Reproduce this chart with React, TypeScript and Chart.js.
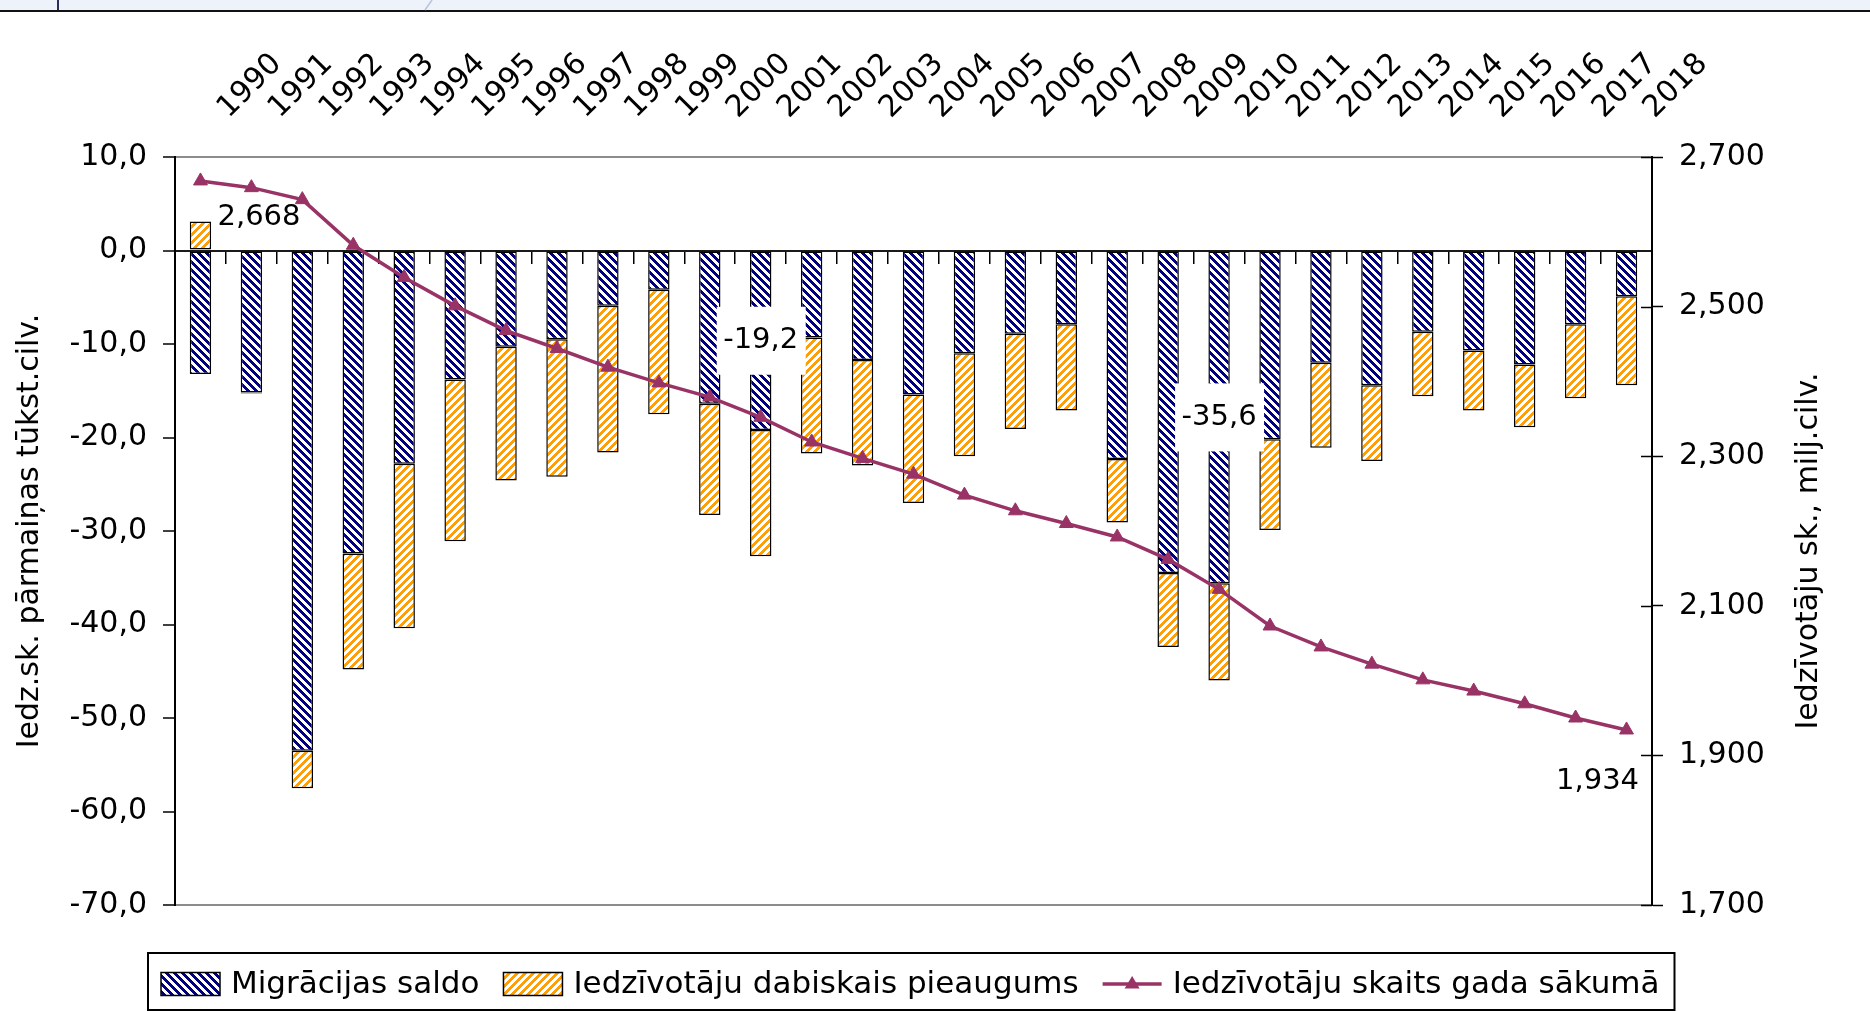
import React, { useEffect, useRef } from 'react';
import { Chart, registerables } from 'chart.js';

Chart.register(...registerables);

const years = ['1990', '1991', '1992', '1993', '1994', '1995', '1996', '1997', '1998', '1999', '2000', '2001', '2002', '2003', '2004', '2005', '2006', '2007', '2008', '2009', '2010', '2011', '2012', '2013', '2014', '2015', '2016', '2017', '2018'];

const migration = [-13.2, -15.2, -53.5, -32.4, -22.8, -13.8, -10.3, -9.5, -5.9, -4.2, -16.4, -19.2, -9.3, -11.7, -15.4, -11.0, -8.9, -7.9, -22.3, -34.5, -35.6, -20.2, -12.0, -14.4, -8.7, -10.7, -12.2, -7.9, -4.9];

const naturalIncrease = [3.1, -0.1, -4.0, -12.4, -17.6, -17.3, -14.3, -14.7, -15.7, -13.3, -11.9, -13.5, -12.4, -11.3, -11.6, -11.0, -10.2, -9.2, -6.8, -7.9, -10.4, -9.7, -9.1, -8.1, -6.9, -6.4, -6.7, -7.9, -9.5];

const population = [2.668, 2.659, 2.643, 2.582, 2.539, 2.501, 2.468, 2.444, 2.419, 2.398, 2.379, 2.352, 2.319, 2.297, 2.276, 2.248, 2.227, 2.210, 2.192, 2.162, 2.122, 2.073, 2.045, 2.022, 2.001, 1.986, 1.969, 1.950, 1.934];

const seriesNames = ['Migrācijas saldo', 'Iedzīvotāju dabiskais pieaugums', 'Iedzīvotāju skaits gada sākumā'];
const leftTitle = 'Iedz.sk. pārmaiņas tūkst.cilv.';
const rightTitle = 'Iedzīvotāju sk., milj.cilv.';

const leftMin = -70;
const leftMax = 10;
const leftStep = 10;
const rightMin = 1.7;
const rightMax = 2.7;
const rightStep = 0.2;

const barLabelIdx = [11, 20];
const lineLabelIdx = [0, 28];

const FONT = "'DejaVu Sans', sans-serif";
const NAVY = '#000080';
const ORANGE = '#FFA000';
const PLUM = '#993366';
const TICK_SIZE = 30;

const fmt1 = (v: number) => Number(v).toFixed(1).replace('.', ',');
const fmt3 = (v: number) => Number(v).toFixed(3).replace('.', ',');

function makePattern(ctx: CanvasRenderingContext2D, color: string, dir: number) {
  const c = document.createElement('canvas');
  c.width = 8;
  c.height = 8;
  const g = c.getContext('2d')!;
  g.fillStyle = '#ffffff';
  g.fillRect(0, 0, 8, 8);
  g.fillStyle = color;
  for (let y = 0; y < 8; y++) {
    for (let x = 0; x < 8; x++) {
      const k = dir > 0 ? (x + y) % 8 : (x - y + 8) % 8;
      if (k < 4) g.fillRect(x, y, 1, 1);
    }
  }
  return ctx.createPattern(c, 'repeat')!;
}

export default function App() {
  const ref = useRef<HTMLCanvasElement | null>(null);

  useEffect(() => {
    document.body.style.margin = '0';
    const canvas = ref.current!;
    const ctx0 = canvas.getContext('2d')!;
    const blueP = makePattern(ctx0, NAVY, -1);
    const orangeP = makePattern(ctx0, ORANGE, 1);

    const decor = {
      id: 'decor',
      beforeDraw(chart: any) {
        const ctx = chart.ctx;
        ctx.save();
        ctx.fillStyle = '#ffffff';
        ctx.fillRect(0, 0, chart.width, chart.height);
        ctx.fillStyle = '#eef2fb';
        ctx.fillRect(0, 0, chart.width, 10);
        ctx.fillStyle = '#111111';
        ctx.fillRect(0, 10, chart.width, 2);
        ctx.fillStyle = '#2a2f55';
        ctx.fillRect(57, 0, 2, 10);
        ctx.strokeStyle = '#b8c4dc';
        ctx.lineWidth = 1.5;
        ctx.beginPath();
        ctx.moveTo(432, 0);
        ctx.lineTo(425, 10);
        ctx.stroke();
        ctx.restore();
      },
      afterDatasetsDraw(chart: any) {
        const ctx = chart.ctx;
        ctx.save();
        ctx.font = `29px ${FONT}`;
        ctx.fillStyle = '#000';
        const barMeta = chart.getDatasetMeta(0);
        barLabelIdx.forEach((i) => {
          const el = barMeta.data[i];
          const cx = el.x;
          const cy = (el.y + el.base) / 2;
          ctx.fillStyle = '#ffffff';
          ctx.fillRect(cx - 44, cy - 34, 89, 68);
          ctx.fillStyle = '#000';
          ctx.textAlign = 'center';
          ctx.textBaseline = 'middle';
          ctx.fillText(fmt1(migration[i]), cx, cy);
        });
        const lineMeta = chart.getDatasetMeta(2);
        lineLabelIdx.forEach((i, k) => {
          const el = lineMeta.data[i];
          ctx.textBaseline = 'middle';
          if (k === 0) {
            ctx.textAlign = 'left';
            ctx.fillText(fmt3(population[i]), el.x + 17, el.y + 37);
          } else {
            ctx.textAlign = 'center';
            ctx.fillText(fmt3(population[i]), el.x - 29, el.y + 52);
          }
        });
        ctx.restore();
      },
      afterDraw(chart: any) {
        const ctx = chart.ctx;
        const area = chart.chartArea;
        ctx.save();
        const y2 = chart.scales.y2;
        ctx.strokeStyle = '#000';
        ctx.lineWidth = 1.5;
        y2.ticks.forEach((t: any) => {
          const py = Math.round(y2.getPixelForValue(t.value)) + 0.5;
          ctx.beginPath();
          ctx.moveTo(area.right - 11, py);
          ctx.lineTo(area.right, py);
          ctx.stroke();
        });
        ctx.fillStyle = '#000';
        ctx.font = `30px ${FONT}`;
        ctx.textAlign = 'center';
        ctx.textBaseline = 'middle';
        ctx.save();
        ctx.translate(30, (area.top + area.bottom) / 2);
        ctx.rotate(-Math.PI / 2);
        ctx.fillText(leftTitle, 0, 0);
        ctx.restore();
        ctx.save();
        ctx.translate(1809, (area.top + area.bottom) / 2 + 20);
        ctx.rotate(-Math.PI / 2);
        ctx.fillText(rightTitle, 0, 0);
        ctx.restore();
        // legend
        const ly = 984;
        ctx.font = `31px ${FONT}`;
        ctx.textAlign = 'left';
        ctx.textBaseline = 'middle';
        let x = 161;
        const ds = chart.data.datasets;
        for (let i = 0; i < 2; i++) {
          ctx.fillStyle = ds[i].backgroundColor;
          ctx.fillRect(x, ly - 11.5, 59, 23);
          ctx.strokeStyle = '#000';
          ctx.lineWidth = 1.5;
          ctx.strokeRect(x, ly - 11.5, 59, 23);
          x += 59 + 11;
          ctx.fillStyle = '#000';
          ctx.fillText(ds[i].label, x, ly + 1);
          x += ctx.measureText(ds[i].label).width + 24;
        }
        ctx.strokeStyle = PLUM;
        ctx.lineWidth = 3.5;
        ctx.beginPath();
        ctx.moveTo(x, ly);
        ctx.lineTo(x + 59, ly);
        ctx.stroke();
        ctx.fillStyle = PLUM;
        ctx.beginPath();
        ctx.moveTo(x + 29.5, ly - 8);
        ctx.lineTo(x + 37, ly + 4.5);
        ctx.lineTo(x + 22, ly + 4.5);
        ctx.closePath();
        ctx.fill();
        x += 59 + 11;
        ctx.fillStyle = '#000';
        ctx.fillText(ds[2].label, x, ly + 1);
        x += ctx.measureText(ds[2].label).width;
        ctx.strokeStyle = '#000';
        ctx.lineWidth = 2;
        ctx.strokeRect(148, 953, Math.max(x + 15, 1669) - 148, 57);
        ctx.restore();
      },
    };

    const chart = new Chart(canvas, {
      type: 'bar',
      data: {
        labels: years,
        datasets: [
          {
            label: seriesNames[0],
            data: migration,
            backgroundColor: blueP,
            borderColor: '#000',
            borderWidth: 1.5,
            borderSkipped: false,
            stack: 's',
            order: 1,
            yAxisID: 'y',
            xAxisID: 'x',
            barPercentage: 0.42,
            categoryPercentage: 1,
          } as any,
          {
            label: seriesNames[1],
            data: naturalIncrease,
            backgroundColor: orangeP,
            borderColor: '#000',
            borderWidth: 1.5,
            borderSkipped: false,
            stack: 's',
            order: 1,
            yAxisID: 'y',
            xAxisID: 'x',
            barPercentage: 0.42,
            categoryPercentage: 1,
          } as any,
          {
            type: 'line',
            label: seriesNames[2],
            data: population,
            yAxisID: 'y2',
            xAxisID: 'x',
            borderColor: PLUM,
            backgroundColor: PLUM,
            borderWidth: 3.5,
            pointStyle: 'triangle',
            pointRadius: 8,
            pointBackgroundColor: PLUM,
            pointBorderColor: PLUM,
            pointBorderWidth: 1,
            tension: 0,
            fill: false,
            order: 0,
          } as any,
        ],
      },
      options: {
        responsive: false,
        animation: false,
        devicePixelRatio: 1,
        layout: { padding: { left: 0, right: 0, top: 0, bottom: 106 } },
        plugins: {
          legend: { display: false },
          tooltip: { enabled: false },
          title: { display: false },
        },
        scales: {
          x: {
            type: 'category',
            position: 'top',
            stacked: true,
            offset: true,
            grid: { display: false, drawTicks: false },
            border: { display: false },
            ticks: {
              autoSkip: false,
              minRotation: 45,
              maxRotation: 45,
              padding: 31,
              labelOffset: 48,
              color: '#000',
              font: { family: FONT, size: TICK_SIZE },
            },
            afterFit: (s: any) => {
              s.height = 157;
            },
          },
          x2: {
            type: 'category',
            axis: 'x',
            position: { y: 0 },
            offset: true,
            labels: years,
            grid: { drawOnChartArea: false, drawTicks: true, tickLength: 12, offset: true, color: '#000', lineWidth: 1.5 },
            border: { display: true, color: '#1a1a1a', width: 2 },
            ticks: { display: false },
          },
          y: {
            type: 'linear',
            position: 'left',
            stacked: true,
            min: leftMin,
            max: leftMax,
            ticks: {
              stepSize: leftStep,
              padding: 16,
              color: '#000',
              font: { family: FONT, size: TICK_SIZE },
              callback: (v: any) => fmt1(v),
            },
            grid: {
              color: (c: any) => (c.tick && (c.tick.value === leftMax || c.tick.value === leftMin) ? '#8c8c8c' : 'rgba(0,0,0,0)'),
              lineWidth: 2,
              tickColor: '#000',
              tickLength: 12,
              tickWidth: 1.5,
            },
            border: { color: '#000', width: 2 },
            afterFit: (s: any) => {
              s.width = 175;
            },
          },
          y2: {
            type: 'linear',
            position: 'right',
            stacked: false,
            min: rightMin,
            max: rightMax,
            ticks: {
              stepSize: rightStep,
              padding: 16,
              color: '#000',
              font: { family: FONT, size: TICK_SIZE },
              callback: (v: any) => fmt3(v),
            },
            grid: { drawOnChartArea: false, tickLength: 11, color: '#000', tickWidth: 1.5 },
            border: { color: '#000', width: 2 },
            afterFit: (s: any) => {
              s.width = 218;
            },
          },
        } as any,
      },
      plugins: [decor],
    });

    return () => {
      chart.destroy();
    };
  }, []);

  return (
    <div style={{ width: 1870, height: 1011, position: 'relative', background: '#fff' }}>
      <canvas ref={ref} width={1870} height={1011} style={{ display: 'block', width: 1870, height: 1011 }} />
    </div>
  );
}
